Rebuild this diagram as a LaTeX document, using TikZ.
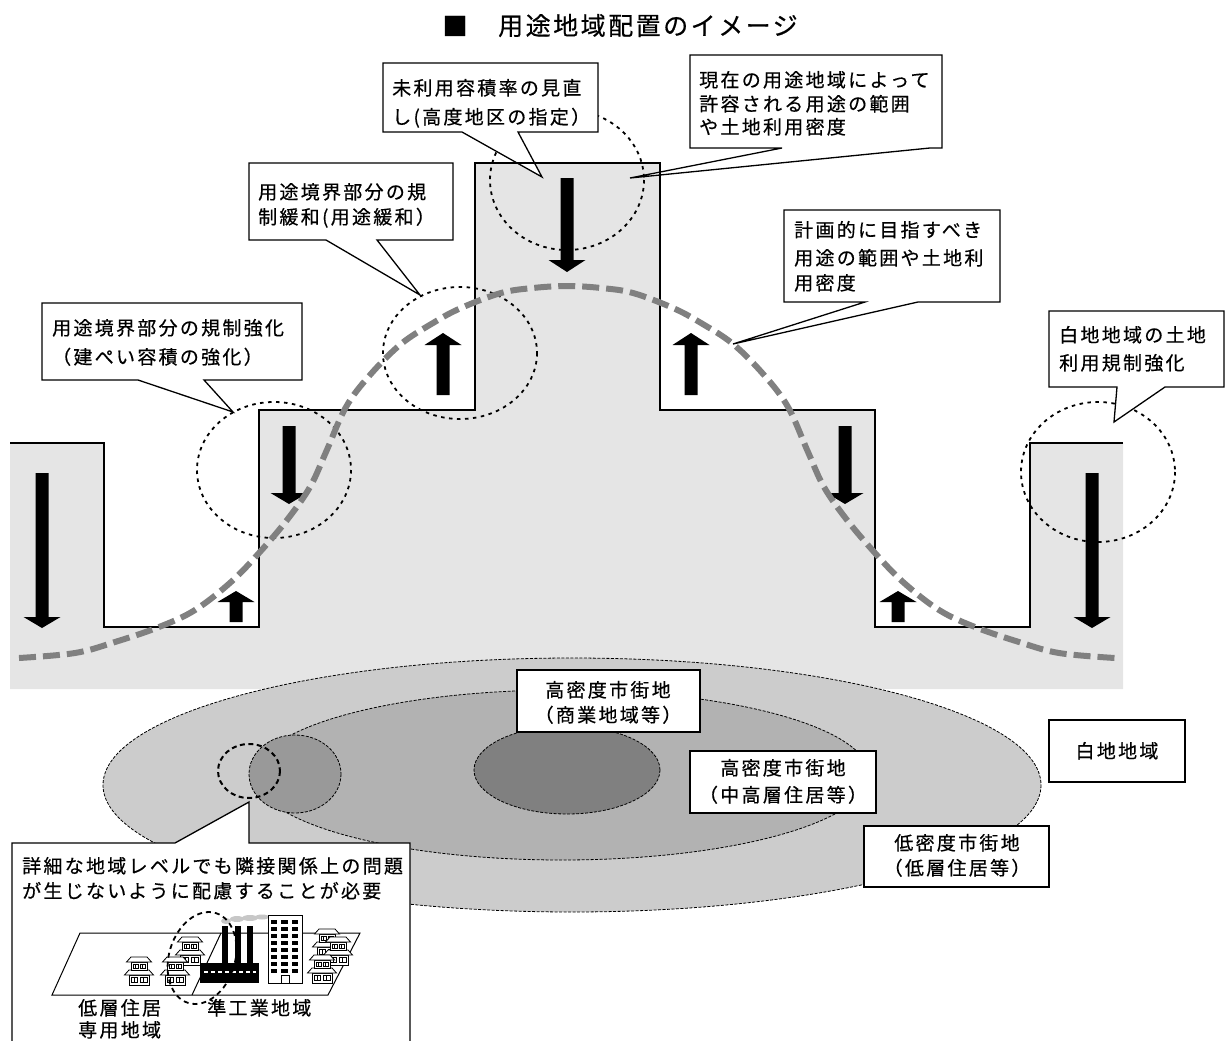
\documentclass[tikz,border=0pt]{standalone}
\usepackage{fontspec}
\setmainfont{Noto Sans CJK JP}
\newfontfamily\jpfont[LetterSpace=12,FakeBold=0.5]{Noto Sans CJK JP}
\newfontfamily\jphead[LetterSpace=10,FakeBold=0.5]{Noto Sans CJK JP}
\definecolor{landgray}{gray}{0.9}
\definecolor{zoneA}{gray}{0.8}
\definecolor{zoneB}{gray}{0.7}
\definecolor{zoneC}{gray}{0.6}
\definecolor{zoneD}{gray}{0.5}
\definecolor{plancurve}{gray}{0.5}
\definecolor{smoke}{gray}{0.78}

% solid block arrow: x, tail y, head-base y, tip y
\newcommand{\blockarrow}[4]{\fill[black] (#1-6.5,#2) -- (#1+6.5,#2) -- (#1+6.5,#3) -- (#1+18.5,#3) -- (#1,#4) -- (#1-18.5,#3) -- (#1-6.5,#3) -- cycle;}
% speech box with pointer on the bottom edge: x1,y1,x2,y2, base-left x, base-right x, tip x, tip y
\newcommand{\callout}[8]{\draw[callbox] (#1,#2) -- (#3,#2) -- (#3,#4) -- (#6,#4) -- (#7,#8) -- (#5,#4) -- (#1,#4) -- cycle;}
% two-storey house pictogram, bottom centre at (x,y)
\newcommand{\house}[2]{%
\begin{scope}[shift={(#1,#2)}, line width=0.8pt]
  \filldraw[fill=white] (-10,0) rectangle (10,-10);
  \draw (-8,-7.5) rectangle (-1.5,-2.5) (-4.75,-7.5) -- (-4.75,-2.5);
  \draw (1.5,-7.5) rectangle (8,-2.5) (4.75,-7.5) -- (4.75,-2.5);
  \filldraw[fill=white] (-14.5,-10) -- (14.5,-10) -- (10,-15) -- (-10,-15) -- cycle;
  \filldraw[fill=white] (-8,-15) rectangle (8,-23);
  \draw (-6,-21) rectangle (-1,-17) (-3.5,-21) -- (-3.5,-17);
  \draw (1,-21) rectangle (6,-17) (3.5,-21) -- (3.5,-17);
  \filldraw[fill=white] (-12.5,-23) -- (12.5,-23) -- (8,-28) -- (-8,-28) -- cycle;
\end{scope}}

\begin{document}
\begin{tikzpicture}[x=1pt,y=-1pt,
  stepline/.style={line width=2.2pt, line join=miter},
  dotring/.style={draw=black, line width=1.8pt, dash pattern=on 3.5pt off 4.5pt},
  zone/.style={draw=black, line width=0.8pt, dash pattern=on 3pt off 1.5pt},
  callbox/.style={draw=black, fill=white, line width=1.3pt, line join=miter},
  txt/.style={inner sep=0pt, font=\jpfont\fontsize{19}{19}\selectfont},
  lbl/.style={txt, anchor=base west},
  clbl/.style={txt, anchor=base},
]
\useasboundingbox (0,0) rectangle (1226,1041);
\begin{scope}
\clip (0,0) rectangle (1226,1041);

% ---------- title ----------
\node[inner sep=0pt, font=\jphead\fontsize{25}{25}\selectfont] (ttlmark) at (455,26) {■};
\node[inner sep=0pt, anchor=base west, font=\jphead\fontsize{25}{25}\selectfont] (ttl) at (498,35) {用途地域配置のイメージ};

% ---------- land-use profile ----------
\fill[landgray] (10,443) -- (104,443) -- (104,627) -- (259,627) -- (259,410) -- (475,410) -- (475,163)
  -- (660,163) -- (660,410) -- (875,410) -- (875,627) -- (1030,627) -- (1030,443) -- (1123,443)
  -- (1123,689) -- (10,689) -- cycle;

% ---------- zone ellipses ----------
\fill[zoneA] (572,785) ellipse [x radius=469, y radius=127];
\draw[zone] (572,785) ellipse [x radius=469, y radius=127];
\fill[zoneB] (562,775) ellipse [x radius=307, y radius=85];
\draw[zone] (562,775) ellipse [x radius=307, y radius=85];
\fill[zoneC] (295,774) ellipse [x radius=46, y radius=39];
\draw[zone] (295,774) ellipse [x radius=46, y radius=39];
\fill[zoneD] (567,770) ellipse [x radius=93, y radius=44];
\draw[zone] (567,770) ellipse [x radius=93, y radius=44];
\draw[line width=2pt, dash pattern=on 5pt off 3.5pt] (249,771) ellipse [x radius=31, y radius=27];

% ---------- arrows ----------
\blockarrow{42}{473}{617}{628}
\blockarrow{289}{426}{493}{504}
\blockarrow{236}{622}{602}{591}
\blockarrow{443}{395}{345}{333}
\blockarrow{567}{178}{260}{272}
\blockarrow{691}{395}{345}{333}
\blockarrow{845}{426}{493}{504}
\blockarrow{898}{622}{602}{591}
\blockarrow{1092}{473}{617}{628}

% ---------- dotted focus rings ----------
\draw[dotring] (567,180) ellipse [x radius=77, y radius=70];
\draw[dotring] (460,353) ellipse [x radius=77, y radius=66];
\draw[dotring] (274,470) ellipse [x radius=77, y radius=68];
\draw[dotring] (1098,472) ellipse [x radius=77, y radius=70];

% ---------- callouts ----------
\callout{383}{63}{598}{132}{462}{518}{542}{177}
\node[lbl] (c1a) at (392,95) {未利用容積率の見直};
\node[lbl] (c1b) at (392,124) {し(高度地区の指定）};

\callout{690}{55}{942}{148}{782}{930}{630}{178}
\node[lbl] (c2a) at (699,87) {現在の用途地域によって};
\node[lbl] (c2b) at (699,111) {許容される用途の範囲};
\node[lbl] (c2c) at (699,134) {や土地利用密度};

\callout{249}{163}{453}{240}{326}{377}{420}{295}
\node[lbl] (c3a) at (258,199) {用途境界部分の規};
\node[lbl] (c3b) at (258,224) {制緩和(用途緩和）};

\callout{42}{303}{302}{380}{138}{204}{233}{412}
\node[lbl] (c4a) at (52,335) {用途境界部分の規制強化};
\node[lbl] (c4b) at (52,364) {（建ぺい容積の強化）};

\callout{784}{210}{1000}{302}{865}{918}{733}{344}
\node[lbl] (c5a) at (794,237) {計画的に目指すべき};
\node[lbl] (c5b) at (794,265) {用途の範囲や土地利};
\node[lbl] (c5c) at (794,290) {用密度};

\callout{1049}{311}{1224}{387}{1117}{1165}{1114}{422}
\node[lbl] (c6a) at (1059,342) {白地地域の土地};
\node[lbl] (c6b) at (1059,370) {利用規制強化};

% ---------- step profile line ----------
\draw[stepline] (10,443) -- (104,443) -- (104,627) -- (259,627) -- (259,410) -- (475,410) -- (475,163)
  -- (660,163) -- (660,410) -- (875,410) -- (875,627) -- (1030,627) -- (1030,443) -- (1123,443);

% ---------- planned density curve ----------
\draw[plancurve, line width=6pt, dash pattern=on 17pt off 7pt]
  plot[smooth, tension=0.6] coordinates {(19,658) (75,653) (115,642) (159,627) (195,610) (231,582)
  (259,553) (287,520) (310,487) (326,452) (346,407) (370,375) (401,344) (433,323) (461,308)
  (501,293) (533,288) (567,286) (601,288) (633,293) (673,308) (701,323) (733,344) (764,375)
  (788,407) (808,452) (824,487) (847,520) (875,553) (903,582) (939,610) (975,627) (1019,642)
  (1059,653) (1115,658)};

% ---------- zone labels ----------
\draw[callbox, line width=1.2pt] (517,670) rectangle (700,732);
\node[clbl] (z1a) at (608,697) {高密度市街地};
\node[clbl] (z1b) at (608,722) {（商業地域等）};
\draw[callbox, line width=1.2pt] (690,751) rectangle (876,813);
\node[clbl] (z2a) at (783,775) {高密度市街地};
\node[clbl] (z2b) at (783,802) {（中高層住居等）};
\draw[callbox, line width=1.2pt] (864,826) rectangle (1049,887);
\node[clbl] (z3a) at (957,850) {低密度市街地};
\node[clbl] (z3b) at (957,875) {（低層住居等）};
\draw[callbox, line width=1.2pt] (1049,720) rectangle (1185,782);
\node[clbl] (z4) at (1117,758) {白地地域};

% ---------- detail callout ----------
\draw[callbox] (12,843) -- (175,843) -- (249,802) -- (249,843) -- (410,843) -- (410,1050) -- (12,1050) -- cycle;
\node[lbl] (dta) at (22,873) {詳細な地域レベルでも隣接関係上の問題};
\node[lbl] (dtb) at (22,898) {が生じないように配慮することが必要};

% ground plane
\draw[line width=1pt] (52,995) -- (80,933) -- (360,933) -- (328,995) -- cycle;
\draw[line width=1pt] (192,995) -- (221,933);

% houses
\house{190}{965}
\house{139}{985}
\house{175}{985}
\house{327}{957}
\house{338}{965}
\house{322}{983}

% smoke
\fill[smoke] (226,921) ellipse [x radius=5, y radius=3];
\fill[smoke] (237,919) ellipse [x radius=7, y radius=3];
\fill[smoke] (250,918) ellipse [x radius=8, y radius=3];
\fill[smoke] (262,917) ellipse [x radius=7, y radius=2.5];

% factory
\fill[black] (200,963) rectangle (259,983);
\fill[black] (222,926) rectangle (228,963);
\fill[black] (234.5,926) rectangle (240.5,963);
\fill[black] (247,926) rectangle (253,963);
\draw[white, line width=1.2pt, dash pattern=on 4pt off 3pt] (204,972) -- (256,972);

% tower block
\filldraw[fill=white, draw=black, line width=1pt] (268,915) rectangle (302,983);
\foreach \r in {0,...,7} {
  \fill[black] (271,920+7*\r) rectangle ++(6,3.5);
  \fill[black] (281,920+7*\r) rectangle ++(7,3.5);
  \fill[black] (292,920+7*\r) rectangle ++(6,3.5);
}
\draw[line width=0.8pt, fill=white] (281,983) -- (281,975) -- (289,975) -- (289,983);

% boundary ring
\draw[line width=1.8pt, dash pattern=on 5pt off 4pt, rotate around={-17:(202,958)}] (202,958) ellipse [x radius=33, y radius=47];

\node[lbl] (lowres1) at (78,1015) {低層住居};
\node[lbl] (lowres2) at (78,1037) {専用地域};
\node[lbl] (semiind) at (207,1015) {準工業地域};

\end{scope}
\end{tikzpicture}
\end{document}
